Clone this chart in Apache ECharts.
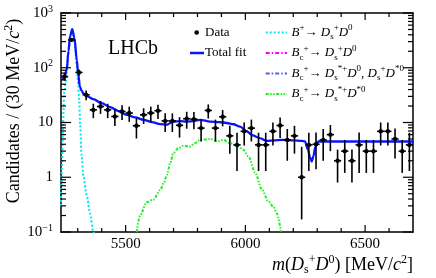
<!DOCTYPE html>
<html><head><meta charset="utf-8">
<script src="https://cdn.jsdelivr.net/npm/echarts@6/dist/echarts.min.js"></script>
<style>html,body{margin:0;padding:0;background:#fff}#c{width:436px;height:278px}</style>
</head><body><div id="c"></div>
<script>
// ---- data ----
const binCenters = [5245,5275,5305,5335,5365,5395,5425,5455,5485,5515,5545,5575,5605,5635,5665,5695,5725,5755,5785,5815,5845,5875,5905,5935,5965,5995,6025,6055,6085,6115,6145,6175,6205,6235,6265,6295,6325,6355,6385,6415,6445,6475,6505,6535,6565,6595,6625,6655,6685];
const counts = [69,323,82,32,17,19.6,17,12.9,15.9,14.9,8.7,13.8,14.9,16.4,10.7,10.7,8.9,11.7,11.5,7.9,16.6,7.9,12.7,5.7,3.9,6.9,7.9,3.9,3.9,6.9,8.8,4.8,5.7,1.0,3.9,4.0,4.8,6.0,2.0,3.0,2.0,3.9,3.0,3.0,6.9,6.9,5.0,3.0,3.9];
const countErrUp   = [11,22,11,6.5,5,5.2,5,4.3,4.8,4.6,3.6,4.4,4.6,4.8,4.0,4.0,3.6,4.0,4.0,3.4,4.8,3.4,4.2,3.0,2.6,3.1,3.4,2.6,2.6,3.1,3.6,2.8,3.0,2.6,2.6,2.6,2.8,3.0,1.2,1.8,1.2,2.7,1.8,1.8,3.1,3.1,2.8,1.8,2.6];
const countErrDown = [11,22,11,6.5,5,5.2,5,4.3,4.8,4.6,3.6,4.4,4.6,4.8,4.0,4.0,3.6,4.0,4.0,3.4,4.8,3.4,4.2,3.0,2.6,3.1,3.4,2.6,2.6,3.1,3.6,2.8,3.0,0.83,2.6,2.6,2.8,3.0,1.2,1.8,1.2,2.7,1.8,1.8,3.1,3.1,2.8,1.8,2.6];

const fitMass  = [5230,5238,5245,5254,5261,5268,5277,5286,5296,5302,5309,5316,5323,5340,5365,5400,5435,5470,5504,5540,5574,5610,5644,5672,5699,5727,5755,5783,5811,5853,5890,5922,5950,5978,6006,6030,6060,6089,6120,6152,6200,6236,6249,6261,6270,6277,6284,6292,6305,6400,6550,6700];
const fitTotal = [60,62,70,92,200,380,506,350,139,75,45,38,34,30,26.7,22.5,19.1,16.2,13.8,12.4,11.2,10.2,9.35,9.1,10.4,10.6,10.4,10.6,11.2,10.4,10.2,9.8,9.3,8.4,6.9,5.8,5.2,4.6,4.7,4.8,4.7,4.6,4.5,3.2,2.3,1.94,2.4,3.6,4.5,4.5,4.5,4.5];

const bpMass = [5230,5234,5238,5243,5250,5254,5261,5268,5277,5286,5296,5302,5306,5310,5316,5324,5338,5351,5365,5372];
const bpVal  = [0.3,1.5,7,35,55,80,180,350,480,320,110,50,25,9,2.5,1.0,0.45,0.22,0.1,0.07];

const dsstMass = [5546,5560,5588,5616,5644,5660,5672,5686,5699,5720,5741,5769,5790,5811,5853,5881,5908,5936,5970,5990,6013,6041,6069,6096,6117,6131,6149];
const dsstVal  = [0.1,0.2,0.35,0.39,0.58,0.8,1.1,1.8,2.75,3.4,3.75,3.65,4.2,4.8,5.0,4.5,4.8,4.2,3.7,3.2,2.4,1.2,0.6,0.36,0.29,0.22,0.1];

const xLabelTicks = [5500,6000,6500];
const xMinorTicks = [5300,5400,5600,5700,5800,5900,6100,6200,6300,6400,6600];
const yMajorTicks = [0.1,1,10,100,1000];
const yMinorTicks = [0.2,0.3,0.4,0.5,0.6,0.7,0.8,0.9,2,3,4,5,6,7,8,9,20,30,40,50,60,70,80,90,200,300,400,500,600,700,800,900];

// ---- chart ----
const FF = "'Liberation Serif','DejaVu Serif',serif";
const X0 = 5230, X1 = 6700, Y0 = 0.1, Y1 = 1000;
const chart = echarts.init(document.getElementById('c'), null, {renderer:'canvas'});

const tickItems = [];
xLabelTicks.forEach(v => { tickItems.push([v, Y0, 7, 0]); tickItems.push([v, Y1, 7, 1]); });
xMinorTicks.forEach(v => { tickItems.push([v, Y0, 4, 0]); tickItems.push([v, Y1, 4, 1]); });
yMajorTicks.forEach(v => { tickItems.push([X0, v, 10, 2]); tickItems.push([X1, v, 10, 3]); });
yMinorTicks.forEach(v => { tickItems.push([X0, v, 5, 2]); tickItems.push([X1, v, 5, 3]); });

function mkRich(base, small, lh, slh) {
  return {
    i:  {fontFamily:FF, fontStyle:'italic', fontSize:base, lineHeight:lh},
    n:  {fontFamily:FF, fontSize:base, lineHeight:lh},
    sp: {fontFamily:FF, fontSize:small, verticalAlign:'top', lineHeight:slh},
    sb: {fontFamily:FF, fontSize:small, verticalAlign:'bottom', lineHeight:slh}
  };
}
const rich = mkRich(13, 9, 18, 9);
const legendTexts = [
  [291.5, 32.5, '{i|B}{sp|+}{n|→ }{i|D}{sb|s}{sp|+}{i|D}{sp|0}'],
  [291.5, 53,   '{i|B}{sb|c}{sp|+}{n|→ }{i|D}{sb|s}{sp|+}{i|D}{sp|0}'],
  [291.5, 73.5, '{i|B}{sb|c}{sp|+}{n|→ }{i|D}{sb|s}{sp|*+}{i|D}{sp|0}{n|, }{i|D}{sb|s}{sp|+}{i|D}{sp|*0}'],
  [291.5, 94,   '{i|B}{sb|c}{sp|+}{n|→ }{i|D}{sb|s}{sp|*+}{i|D}{sp|*0}']
];
const legendLines = [
  [32.5, '#00e8f0', [2,2]],
  [53,   '#ff00ff', [4,2,1.5,2]],
  [73.5, '#5c5cf0', [4,2,1.5,2]],
  [94,   '#22ee22', [3,1.5,1.5,1.5,1.5,1.5]]
];

const graphics = [
  {type:'text', style:{x:108, y:49, text:'LHCb', font:"20px "+FF, fill:'#000', textVerticalAlign:'middle'}},
  {type:'circle', shape:{cx:196.7, cy:32.5, r:2.3}, style:{fill:'#000'}},
  {type:'text', style:{x:205, y:33, text:'Data', font:"13px "+FF, fill:'#000', textVerticalAlign:'middle'}},
  {type:'line', shape:{x1:190, y1:53, x2:204, y2:53}, style:{stroke:'#0a14ff', lineWidth:2.5}},
  {type:'text', style:{x:205, y:53, text:'Total fit', font:"13px "+FF, fill:'#000', textVerticalAlign:'middle'}},
  {type:'text', style:{x:413, y:265, textAlign:'right', textVerticalAlign:'middle', fill:'#000',
     text:'{i|m}{n|(}{i|D}{sb|s}{sp|+}{i|D}{sp|0}{n|) [MeV/}{i|c}{sp|2}{n|]}',
     rich:mkRich(18, 12, 22, 12)}},
  {type:'text', x:14, y:111, rotation:Math.PI/2, style:{x:0, y:0, textAlign:'center', textVerticalAlign:'middle', fill:'#000',
     text:'{n|Candidates / (30 MeV/}{i|c}{sp|2}{n|)}',
     rich:mkRich(18, 12, 22, 12)}}
];
legendTexts.forEach(t => graphics.push({type:'text', style:{x:t[0], y:t[1], text:t[2], rich:rich, fill:'#000', textVerticalAlign:'middle', font:"13px "+FF}}));
legendLines.forEach(l => graphics.push({type:'line', shape:{x1:265.7, y1:l[0], x2:287, y2:l[0]}, style:{stroke:l[1], lineWidth:2, lineDash:l[2]}}));

const axisLineStyle = {show:true, onZero:false, lineStyle:{color:'#000', width:1.5}};
const ylabRich = {b:{fontFamily:FF, fontSize:15, color:'#000', lineHeight:18}, s:{fontFamily:FF, fontSize:10, color:'#000', verticalAlign:'top', lineHeight:10}};

chart.setOption({
  animation:false,
  grid:{left:61, top:13, right:23, bottom:46, show:false},
  xAxis:[
    {type:'value', min:X0, max:X1, position:'bottom', axisLine:axisLineStyle, axisTick:{show:false}, splitLine:{show:false},
     axisLabel:{customValues:xLabelTicks, formatter:function(v){return String(v);}, fontFamily:FF, fontSize:15, color:'#000', margin:5}},
    {type:'value', min:X0, max:X1, position:'top', axisLine:axisLineStyle, axisTick:{show:false}, splitLine:{show:false}, axisLabel:{show:false}}
  ],
  yAxis:[
    {type:'log', logBase:10, min:Y0, max:Y1, position:'left', axisLine:axisLineStyle, axisTick:{show:false}, splitLine:{show:false},
     axisLabel:{margin:8, formatter:function(v){ const p = Math.round(Math.log10(v));
        if (p === 0) return '{b|1}'; if (p === 1) return '{b|10}';
        return '{b|10}{s|' + (p < 0 ? '\u2212' + (-p) : p) + '}'; }, rich:ylabRich}},
    {type:'log', logBase:10, min:Y0, max:Y1, position:'right', axisLine:axisLineStyle, axisTick:{show:false}, splitLine:{show:false}, axisLabel:{show:false}}
  ],
  graphic:graphics,
  series:[
    {type:'line', name:'B+ -> Ds D0', data:bpMass.map((m,i)=>[m,bpVal[i]]), showSymbol:false, smooth:0.3, smoothMonotone:'x',
     lineStyle:{color:'#00e8f0', width:2, type:[2,2]}, z:2},
    {type:'line', name:'Bc+ -> Ds*+ D*0', data:dsstMass.map((m,i)=>[m,dsstVal[i]]), showSymbol:false, smooth:0.3, smoothMonotone:'x',
     lineStyle:{color:'#22ee22', width:2, type:[3,1.5,1.5,1.5,1.5,1.5]}, z:2},
    {type:'line', name:'Total fit', data:fitMass.map((m,i)=>[m,fitTotal[i]]), showSymbol:false, smooth:0.3, smoothMonotone:'x',
     lineStyle:{color:'#0a14ff', width:2.3}, z:3},
    {type:'custom', name:'Data', z:4, clip:true,
     data:binCenters.map((m,i)=>[m, counts[i], countErrUp[i], countErrDown[i]]),
     renderItem:function(params, api){
       const m = api.value(0), v = api.value(1), eu = api.value(2), ed = api.value(3);
       const c = api.coord([m, v]);
       const l = api.coord([m-15, v]), r = api.coord([m+15, v]);
       const hi = api.coord([m, v+eu]);
       const lo = (v-ed > Y0) ? api.coord([m, v-ed]) : api.coord([m, Y0]);
       return {type:'group', children:[
         {type:'line', shape:{x1:c[0], y1:hi[1], x2:c[0], y2:lo[1]}, style:{stroke:'#000', lineWidth:1.6}},
         {type:'line', shape:{x1:l[0], y1:c[1], x2:r[0], y2:c[1]}, style:{stroke:'#000', lineWidth:1.6}},
         {type:'circle', shape:{cx:c[0], cy:c[1], r:2.2}, style:{fill:'#000'}}
       ]};
     }},
    {type:'custom', name:'ticks', z:5, silent:true, data:tickItems,
     renderItem:function(params, api){
       const p = api.coord([api.value(0), api.value(1)]);
       const len = api.value(2), d = api.value(3);
       let x2 = p[0], y2 = p[1];
       if (d === 0) y2 -= len; else if (d === 1) y2 += len; else if (d === 2) x2 += len; else x2 -= len;
       return {type:'line', shape:{x1:p[0], y1:p[1], x2:x2, y2:y2}, style:{stroke:'#000', lineWidth:1.2}};
     }}
  ]
});
</script></body></html>
